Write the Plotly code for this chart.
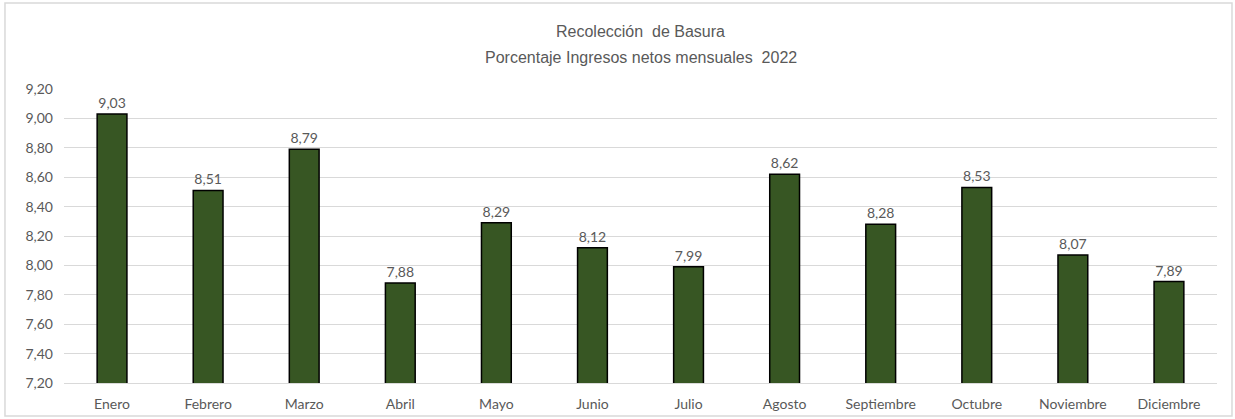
import plotly.graph_objects as go

meses = ["Enero", "Febrero", "Marzo", "Abril", "Mayo", "Junio", "Julio",
         "Agosto", "Septiembre", "Octubre", "Noviembre", "Diciembre"]
porcentaje = [9.03, 8.51, 8.79, 7.88, 8.29, 8.12, 7.99, 8.62, 8.28, 8.53, 8.07, 7.89]
ticks = [7.2, 7.4, 7.6, 7.8, 8.0, 8.2, 8.4, 8.6, 8.8, 9.0, 9.2]
tick_text = [f"{t:.2f}".replace(".", ",") for t in ticks]
etiquetas = [f"{v:.2f}".replace(".", ",") for v in porcentaje]

gris = "#595959"
fuente = "Lato, Carlito, sans-serif"

fig = go.Figure(go.Bar(
    x=meses, y=porcentaje,
    marker=dict(color="#375623", line=dict(color="#000000", width=1.5)),
    text=etiquetas, textposition="outside", cliponaxis=False,
    textfont=dict(family=fuente, size=14, color=gris),
))

titulo = dict(family="Liberation Sans, Arial, sans-serif", size=16, color=gris)

fig.update_layout(
    width=1235, height=419,
    margin=dict(l=64, r=18, t=89, b=36, autoexpand=False),
    paper_bgcolor="white", plot_bgcolor="white",
    bargap=0.69,
    showlegend=False,
    font=dict(family=fuente, size=14, color=gris),
    xaxis=dict(showgrid=False, showline=True, linecolor="#d9d9d9", linewidth=1,
               ticks="", ticklabelstandoff=8, automargin=False,
               tickfont=dict(size=14, color=gris)),
    yaxis=dict(range=[7.2, 9.2], tickvals=ticks, ticktext=tick_text,
               showgrid=True, gridcolor="#d9d9d9", gridwidth=1,
               zeroline=False, showline=False, ticks="", ticklabelstandoff=10,
               automargin=False, tickfont=dict(size=14, color=gris)),
    annotations=[
        dict(text="Recolección  de Basura", xref="paper", yref="paper",
             x=0.5, y=(383 - 32) / 294, xanchor="center", yanchor="middle",
             showarrow=False, font=titulo),
        dict(text="Porcentaje Ingresos netos mensuales  2022", xref="paper", yref="paper",
             x=0.5, y=(383 - 57) / 294, xanchor="center", yanchor="middle",
             showarrow=False, font=titulo),
    ],
    shapes=[dict(type="rect", xref="paper", yref="paper",
                 x0=-0.0512, x1=1.013, y0=-0.112, y1=1.2925,
                 line=dict(color="#d9d9d9", width=1.5))],
)

fig.write_html("out.html", config={"displayModeBar": False},
               post_script="document.body.style.margin='0';")
